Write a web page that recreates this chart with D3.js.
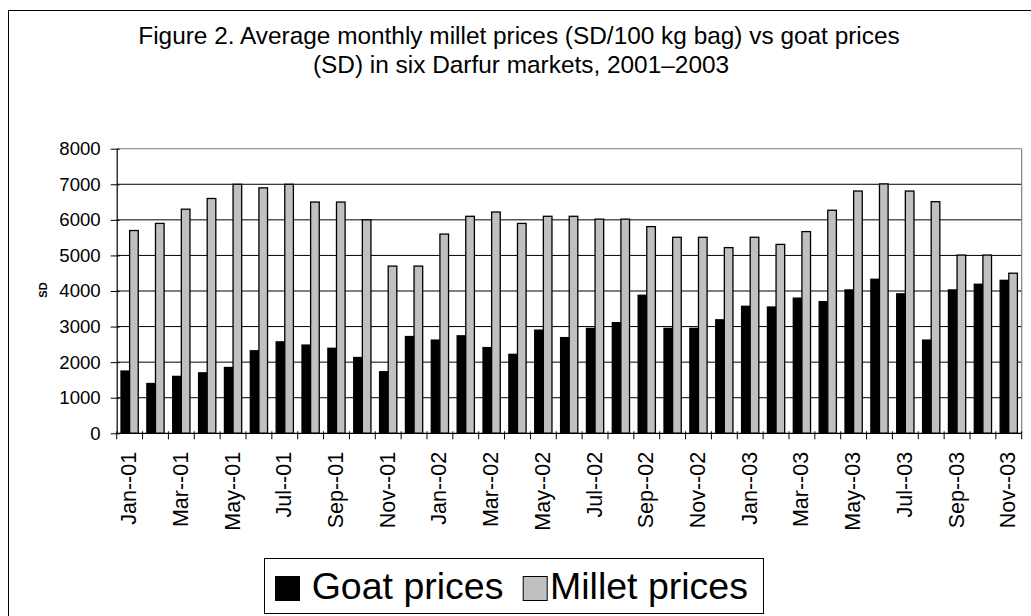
<!DOCTYPE html>
<html>
<head>
<meta charset="utf-8">
<script src="https://cdn.jsdelivr.net/npm/d3@7"></script>
<style>
  html, body { margin: 0; padding: 0; background: #fff; }
  svg { display: block; font-family: "Liberation Sans", Arial, sans-serif; }
</style>
</head>
<body>
<svg id="chart" width="1031" height="616"></svg>
<script>
const months = ["Jan--01","Feb--01","Mar--01","Apr--01","May--01","Jun--01","Jul--01","Aug--01","Sep--01","Oct--01","Nov--01","Dec--01",
                "Jan--02","Feb--02","Mar--02","Apr--02","May--02","Jun--02","Jul--02","Aug--02","Sep--02","Oct--02","Nov--02","Dec--02",
                "Jan--03","Feb--03","Mar--03","Apr--03","May--03","Jun--03","Jul--03","Aug--03","Sep--03","Oct--03","Nov--03"];
const goatPrices = [1750,1400,1600,1700,1850,2320,2570,2480,2390,2130,1730,2720,
                    2620,2740,2410,2220,2900,2690,2950,3110,3880,2950,2950,3190,
                    3570,3550,3800,3700,4030,4330,3920,2620,4030,4190,4300];
const milletPrices = [5700,5900,6300,6600,7000,6900,7000,6500,6500,6000,4700,4700,
                      5600,6100,6220,5900,6100,6100,6020,6020,5810,5510,5510,5220,
                      5510,5310,5670,6270,6810,7010,6810,6510,5010,5010,4500];
const yTicks = [0,1000,2000,3000,4000,5000,6000,7000,8000];
const seriesNames = ["Goat prices","Millet prices"];
const seriesColors = ["#000000","#c0c0c0"];
const titleLines = ["Figure 2. Average monthly millet prices (SD/100 kg bag) vs goat prices",
                    "(SD) in six Darfur markets, 2001\u20132003"];
const yAxisTitle = "SD";

const svg = d3.select("#chart");

// outer chart frame
svg.append("rect").attr("x", 8.5).attr("y", 10.5).attr("width", 1040).attr("height", 620)
  .attr("fill", "#fff").attr("stroke", "#000").attr("stroke-width", 1);

const plot = {left: 116.7, top: 148.7, right: 1021.7, bottom: 433.3};

const x0 = d3.scaleBand().domain(months).range([plot.left, plot.right])
  .paddingInner(1/3).paddingOuter(1/6);
const xb = d3.scaleBand().domain(months).range([plot.left, plot.right]).padding(0);
const x1 = d3.scaleBand().domain(seriesNames).range([0, x0.bandwidth()]).padding(0);
const y = d3.scaleLinear().domain([0, 8000]).range([plot.bottom, plot.top]);

// gridlines
svg.append("g").selectAll("line").data(yTicks.filter(d => d > 0)).join("line")
  .attr("x1", plot.left).attr("x2", plot.right)
  .attr("y1", d => y(d)).attr("y2", d => y(d))
  .attr("stroke", d => d === 8000 ? "#808080" : "#000").attr("stroke-width", 1);

// plot area right border
svg.append("line").attr("x1", plot.right).attr("x2", plot.right)
  .attr("y1", plot.top).attr("y2", plot.bottom).attr("stroke", "#808080").attr("stroke-width", 1.2);

// bars
const data = months.map((m, i) => ({m, vals: [goatPrices[i], milletPrices[i]]}));
const groups = svg.append("g").selectAll("g").data(data).join("g")
  .attr("transform", d => `translate(${x0(d.m)},0)`);
groups.selectAll("rect").data(d => d.vals.map((v, k) => ({k, v}))).join("rect")
  .attr("x", d => x1(seriesNames[d.k]))
  .attr("width", x1.bandwidth())
  .attr("y", d => y(d.v))
  .attr("height", d => y(0) - y(d.v))
  .attr("fill", d => seriesColors[d.k])
  .attr("stroke", "#000").attr("stroke-width", 1.3);

// y axis
const yAxis = d3.axisLeft(y).tickValues(yTicks).tickSize(0).tickPadding(16).tickFormat(d3.format("d"));
const gy = svg.append("g").attr("transform", `translate(${plot.left},0)`).call(yAxis);
gy.select(".domain").attr("stroke", "#000").attr("stroke-width", 1.2);
gy.selectAll(".tick text").attr("font-size", 18.6).attr("fill", "#000")
  .attr("font-family", "Liberation Sans, Arial, sans-serif");
gy.selectAll(".tick").append("line").attr("x1", -6).attr("x2", 3).attr("stroke", "#000");

// x axis line
svg.append("line").attr("x1", plot.left).attr("x2", plot.right)
  .attr("y1", plot.bottom).attr("y2", plot.bottom).attr("stroke", "#000").attr("stroke-width", 1.2);
// x ticks at category boundaries
const bounds = months.map(m => xb(m)).concat([plot.right]);
svg.append("g").selectAll("line").data(bounds).join("line")
  .attr("x1", d => d).attr("x2", d => d)
  .attr("y1", plot.bottom - 2).attr("y2", plot.bottom + 6)
  .attr("stroke", "#000").attr("stroke-width", 1);

// x labels (every other month)
svg.append("g").selectAll("text").data(months.filter((m, i) => i % 2 === 0)).join("text")
  .attr("transform", m => `translate(${x0(m) + x0.bandwidth()/2 - 1},${plot.bottom + 18.5}) rotate(-90)`)
  .attr("text-anchor", "end").attr("dy", "0.35em")
  .attr("font-size", 21.5).attr("fill", "#000")
  .text(m => m);

// y axis title
svg.append("text").attr("transform", "translate(43,290) rotate(-90)")
  .attr("text-anchor", "middle").attr("dy", "0.35em")
  .attr("font-size", 11).attr("font-weight", "bold").text(yAxisTitle);

// title
svg.append("text").attr("x", 519).attr("y", 44).attr("text-anchor", "middle")
  .attr("font-size", 24.4).attr("fill", "#000").text(titleLines[0]);
svg.append("text").attr("x", 521).attr("y", 73).attr("text-anchor", "middle")
  .attr("font-size", 24.4).attr("fill", "#000").text(titleLines[1]);

// legend
const lg = svg.append("g");
lg.append("rect").attr("x", 264.5).attr("y", 558.5).attr("width", 499).attr("height", 55)
  .attr("fill", "#fff").attr("stroke", "#000").attr("stroke-width", 1);
const legendItems = [{sx: 275, tx: 311.7}, {sx: 522.7, tx: 550}];
legendItems.forEach((it, k) => {
  lg.append("rect").attr("x", it.sx + 0.5).attr("y", 576.5).attr("width", 24).attr("height", 24)
    .attr("fill", seriesColors[k]).attr("stroke", "#000").attr("stroke-width", 1);
  lg.append("text").attr("x", it.tx).attr("y", 599).attr("font-size", 37.5).attr("fill", "#000")
    .text(seriesNames[k]);
});
</script>
</body>
</html>
